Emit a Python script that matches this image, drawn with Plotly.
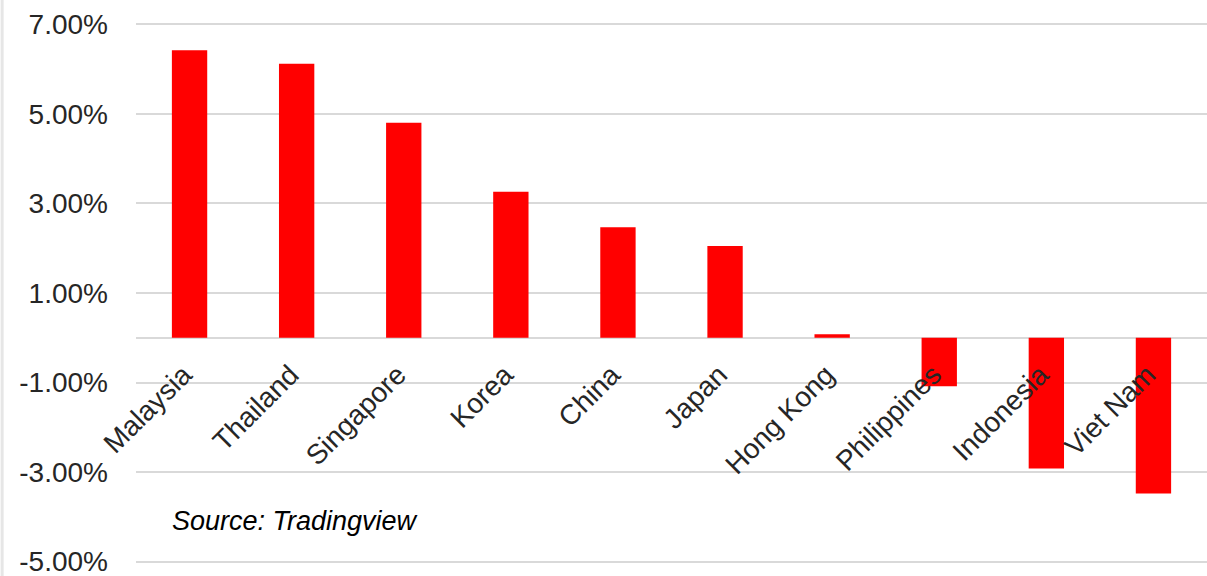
import plotly.graph_objects as go

countries = ["Malaysia", "Thailand", "Singapore", "Korea", "China", "Japan",
             "Hong Kong", "Philippines", "Indonesia", "Viet Nam"]
returns_pct = [6.42, 6.12, 4.80, 3.26, 2.47, 2.05, 0.08, -1.08, -2.92, -3.48]
y_ticks = [-5, -3, -1, 1, 3, 5, 7]
y_tick_labels = [f"{v:.2f}%" for v in y_ticks]
y_min, y_max = -5.03, 7.03
source_text = "Source: Tradingview"

FONT = "Liberation Sans, Arial, sans-serif"

fig = go.Figure()
fig.add_trace(go.Bar(
    x=countries, y=returns_pct, width=0.33,
    marker=dict(color="#ff0000", line=dict(width=0)),
))

zero_pos = (0 - y_min) / (y_max - y_min)

fig.update_layout(
    width=1207, height=576,
    margin=dict(l=136, r=0, t=23, b=13),
    paper_bgcolor="white", plot_bgcolor="white",
    showlegend=False,
    font=dict(family=FONT, color="#404040"),
    xaxis=dict(
        type="category", tickangle=-45, anchor="free", position=zero_pos,
        showgrid=False, showline=False, ticks="",
        tickfont=dict(size=28, color="#262626"),
        ticklabelstandoff=14, ticklabelshift=-6,
        range=[-0.5, 9.5],
    ),
    yaxis=dict(
        range=[y_min, y_max], tickvals=y_ticks, ticktext=y_tick_labels,
        showgrid=True, gridcolor="#d9d9d9", gridwidth=1.5,
        zeroline=True, zerolinecolor="#d9d9d9", zerolinewidth=1.5,
        showline=False, ticks="",
        tickfont=dict(size=28, color="#262626"),
        ticklabelstandoff=27, ticklabeloverflow="allow",
    ),
    annotations=[dict(
        text=source_text, xref="paper", yref="y", x=0.032, y=-4.1,
        xanchor="left", yanchor="middle", showarrow=False,
        font=dict(family=FONT, size=27, color="#000000", style="italic"),
    )],
    shapes=[dict(type="line", xref="paper", yref="paper",
                 x0=-0.125, x1=-0.125, y0=-0.05, y1=1.05,
                 line=dict(color="#e6e6e6", width=3))],
)

fig.write_html("out.html", config={"displayModeBar": False},
               post_script="document.body.style.margin='0';document.body.style.overflow='hidden';")
